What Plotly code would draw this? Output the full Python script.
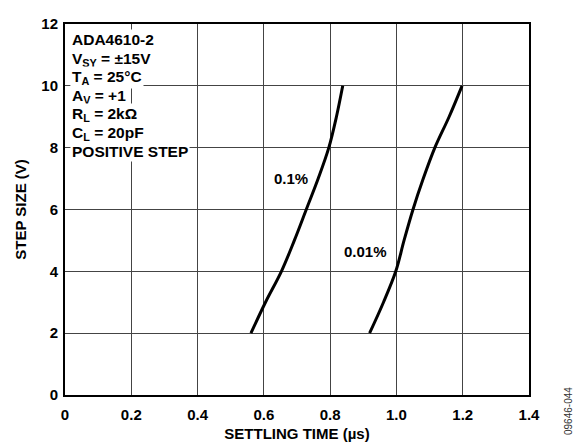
import plotly.graph_objects as go

# settling time (us) vs step size (V)
step_v = [2, 3, 4, 5, 6, 7, 8, 9, 10]
t_01 = [0.561, 0.605, 0.653, 0.692, 0.728, 0.764, 0.796, 0.819, 0.838]
t_001 = [0.919, 0.961, 0.998, 1.023, 1.050, 1.081, 1.116, 1.159, 1.198]

x_ticks = [0, 0.2, 0.4, 0.6, 0.8, 1.0, 1.2, 1.4]
x_ticklabels = ["0", "0.2", "0.4", "0.6", "0.8", "1.0", "1.2", "1.4"]
y_ticks = [0, 2, 4, 6, 8, 10, 12]

cond_lines = ["ADA4610-2", "V<sub>SY</sub> = ±15V", "T<sub>A</sub> = 25°C",
              "A<sub>V</sub> = +1", "R<sub>L</sub> = 2kΩ", "C<sub>L</sub> = 20pF",
              "POSITIVE STEP"]

FONT = "Liberation Sans, Arial, sans-serif"
BOLD = dict(family=FONT, size=15, color="black", weight="bold")

fig = go.Figure()
fig.add_trace(go.Scatter(x=t_01, y=step_v, mode="lines", line=dict(color="black", width=3, shape="spline")))
fig.add_trace(go.Scatter(x=t_001, y=step_v, mode="lines", line=dict(color="black", width=3, shape="spline")))

# condition text, white box behind each line hides the grid
for i, s in enumerate(cond_lines):
    fig.add_annotation(x=0, y=12, xref="x", yref="y", xanchor="left", yanchor="top",
                       xshift=5, yshift=-5 - i * 18.6, text=s, showarrow=False,
                       bgcolor="white", borderpad=1, font=dict(BOLD, size=15.5))

fig.add_annotation(x=0.683, y=7.0, text="0.1%", showarrow=False, font=BOLD)
fig.add_annotation(x=0.908, y=4.63, text="0.01%", showarrow=False, font=BOLD)
fig.add_annotation(x=1, y=0, xref="paper", yref="paper", xshift=39, yshift=-16,
                   text="09646-044", textangle=-90, showarrow=False,
                   xanchor="center", yanchor="middle",
                   font=dict(family=FONT, size=10, color="#333"))

axis_common = dict(showgrid=True, gridcolor="#444", gridwidth=1.2, zeroline=False,
                   showline=True, linecolor="black", linewidth=2, mirror=True,
                   ticks="", tickfont=BOLD)

fig.update_xaxes(range=[0, 1.4], tickvals=x_ticks, ticktext=x_ticklabels, ticklabelstandoff=5,
                 title=dict(text="SETTLING TIME (µs)", standoff=6, font=BOLD),
                 **axis_common)
fig.update_yaxes(range=[0, 12], tickvals=y_ticks, ticklabelstandoff=2,
                 title=dict(text="STEP SIZE (V)", standoff=11, font=BOLD),
                 **axis_common)

# page body adds an 8px margin, so the figure is a bit smaller and shifted
fig.update_layout(width=573, height=440, showlegend=False,
                  margin=dict(l=57, r=52, t=7, b=53),
                  plot_bgcolor="white", paper_bgcolor="white")
fig.write_html("out.html")
